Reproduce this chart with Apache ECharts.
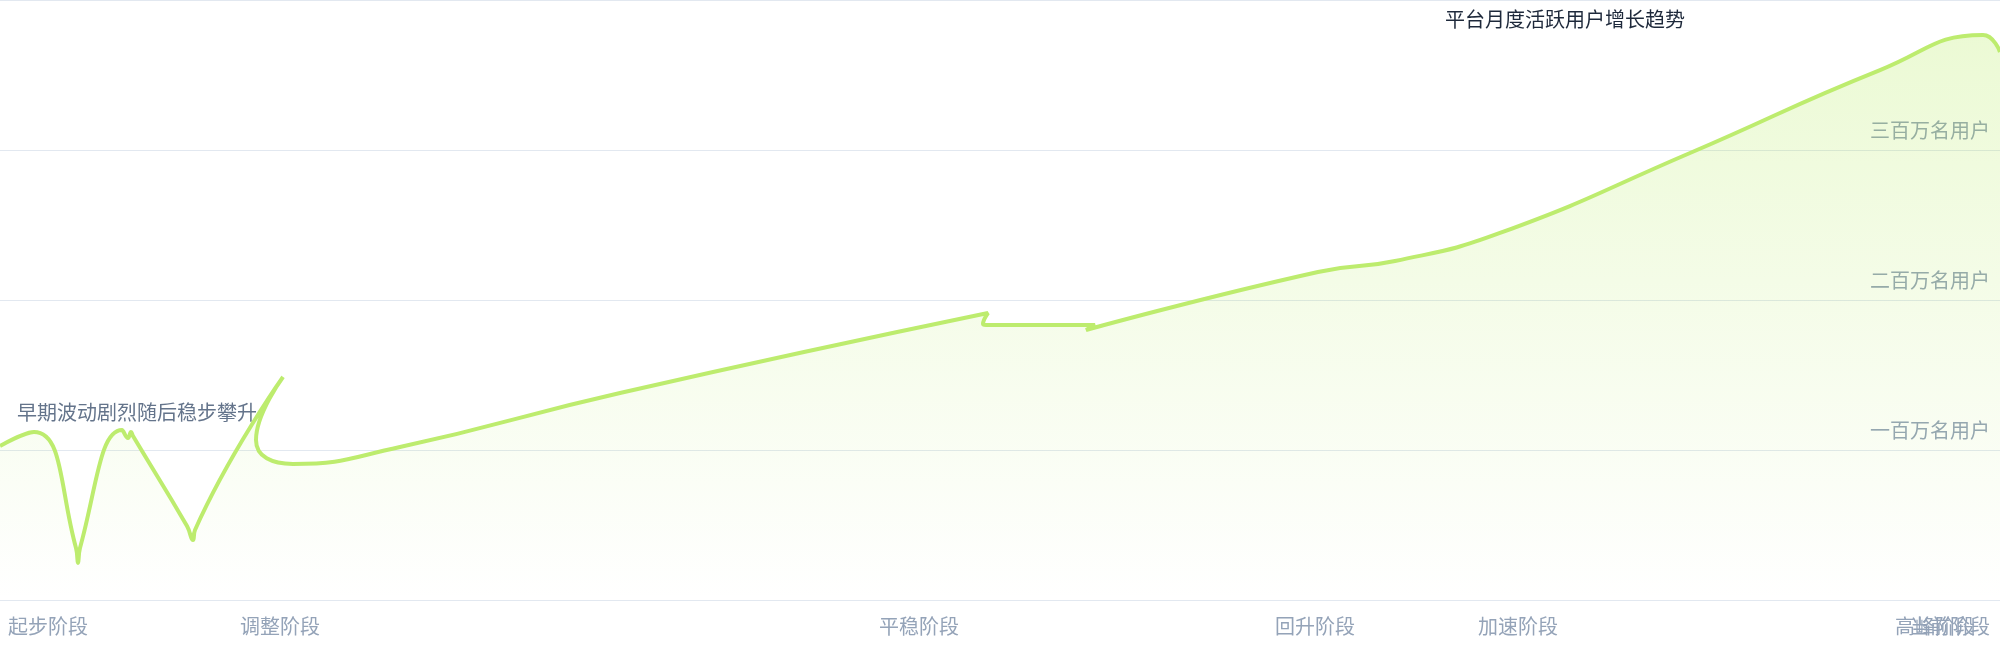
<!DOCTYPE html>
<html>
<head>
<meta charset="utf-8">
<script src="https://cdn.jsdelivr.net/npm/echarts@6/dist/echarts.min.js"></script>
<style>
html,body{margin:0;padding:0;background:#ffffff;}
#chart{width:2000px;height:660px;}
</style>
</head>
<body>
<div id="chart"></div>
<script>
// ---- data ----
const titleText = '平台月度活跃用户增长趋势';
const noteText = '早期波动剧烈随后稳步攀升';

// x: 周期序号（天），y: 活跃用户（万）
const xValues = [0, 1.7, 3.8, 3.9, 4.0, 6.1, 6.4, 6.55, 6.65, 9.35, 9.65, 9.75, 14.15, 12.8, 14.65, 20, 31, 49.4, 49.15, 49.3, 54.75, 54.3, 65.9, 69.75, 75, 84.5, 94, 99.15, 100];
const yValues = [102.7, 112, 34.7, 24.7, 34.7, 113.3, 108, 112, 109.3, 49.3, 40, 46.7, 148.7, 106.7, 90.7, 102, 138, 191.3, 184, 183.3, 183.3, 180, 218.7, 226, 244.7, 298, 353.3, 376.7, 365.3];

const xLabelValues = [2.4, 14, 45.95, 65.75, 75.9, 96.75, 97.5];
const xLabelNames = ['起步阶段', '调整阶段', '平稳阶段', '回升阶段', '加速阶段', '高峰阶段', '当前阶段'];

const yTickValues = [100, 200, 300];
const yTickNames = ['一百万名用户', '二百万名用户', '三百万名用户'];

// ---- chart ----
const FONT = '"Noto Sans CJK SC", "Noto Sans", sans-serif';
const seriesData = xValues.map((x, i) => [x, yValues[i]]);

// the two last labels overlap in the original; draw one of them on a twin axis
const twinIdx = xLabelNames.length - 2;
const mainLabelValues = xLabelValues.filter((v, i) => i !== twinIdx);
const twinLabelValues = [xLabelValues[twinIdx]];
const fmtX = (v) => {
  const i = xLabelValues.indexOf(v);
  return i >= 0 ? xLabelNames[i] : '';
};
const labelStyle = {
  showMinLabel: true,
  showMaxLabel: true,
  hideOverlap: false,
  margin: 16,
  fontFamily: FONT,
  fontSize: 20,
  color: '#94a3b8',
  formatter: fmtX
};

const chart = echarts.init(document.getElementById('chart'), null, { renderer: 'canvas' });
chart.setOption({
  backgroundColor: '#ffffff',
  animation: false,
  title: {
    text: titleText,
    left: '72%',
    top: 4,
    textStyle: { fontFamily: FONT, fontSize: 20, fontWeight: 'normal', color: '#1e293b' }
  },
  graphic: [{
    type: 'text',
    left: 17,
    top: 402,
    z: 0,
    style: { text: noteText, fontFamily: FONT, fontSize: 20, fill: '#64748b' }
  }],
  grid: { left: 0, right: 0, top: -1, bottom: 60, containLabel: false },
  xAxis: [{
    type: 'value',
    position: 'bottom',
    min: 0,
    max: 100,
    splitLine: { show: false },
    axisTick: { show: false },
    axisLine: { show: true, lineStyle: { color: '#e2e8f0', width: 1 } },
    axisLabel: Object.assign({ customValues: mainLabelValues }, labelStyle)
  }, {
    type: 'value',
    position: 'bottom',
    min: 0,
    max: 100,
    splitLine: { show: false },
    axisTick: { show: false },
    axisLine: { show: false },
    axisLabel: Object.assign({ customValues: twinLabelValues }, labelStyle)
  }],
  yAxis: {
    type: 'value',
    position: 'right',
    min: 0,
    max: 400,
    interval: 100,
    axisLine: { show: false },
    axisTick: { show: false },
    splitLine: { lineStyle: { color: '#e2e8f0', width: 1 } },
    axisLabel: {
      inside: true,
      margin: 10,
      showMinLabel: false,
      showMaxLabel: false,
      verticalAlign: 'bottom',
      padding: [0, 0, 10, 0],
      fontFamily: FONT,
      fontSize: 20,
      color: '#94a3b8',
      formatter: (v) => {
        const i = yTickValues.indexOf(v);
        return i >= 0 ? yTickNames[i] : '';
      }
    }
  },
  series: [{
    type: 'line',
    xAxisIndex: 0,
    data: seriesData,
    smooth: true,
    showSymbol: false,
    lineStyle: { color: '#bdec6e', width: 4 },
    areaStyle: {
      color: new echarts.graphic.LinearGradient(0, 0, 0, 1, [
        { offset: 0, color: 'rgba(163,230,53,0.30)' },
        { offset: 1, color: 'rgba(163,230,53,0.0)' }
      ])
    }
  }]
});
</script>
</body>
</html>
